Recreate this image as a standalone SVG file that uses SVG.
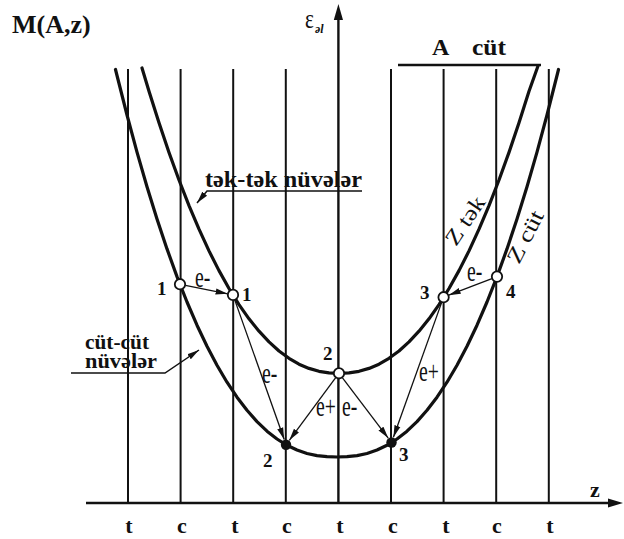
<svg xmlns="http://www.w3.org/2000/svg" width="624" height="539" viewBox="0 0 624 539">
<style>
.grid{stroke:#111;stroke-width:2;fill:none}
.axis{stroke:#111;stroke-width:2.4;fill:none}
.curve{stroke:#111;stroke-width:3.2;fill:none;stroke-linejoin:round;stroke-linecap:round}
.arr{stroke:#111;stroke-width:1.3;fill:none;marker-end:url(#ah)}
.lead{stroke:#111;stroke-width:1.5;fill:none}
.open{fill:#fff;stroke:#111;stroke-width:1.8}
.full{fill:#111}
.b{font-family:"Liberation Serif","DejaVu Serif",serif;font-weight:bold;fill:#111}
.r{font-family:"Liberation Serif","DejaVu Serif",serif;fill:#111}
.num{font-size:19px}
.el{font-size:29px}
</style>
<defs>
<marker id="ah" markerUnits="userSpaceOnUse" markerWidth="13" markerHeight="8" refX="12" refY="4" orient="auto">
<path d="M0,0.9 L12,4 L0,7.1 z" fill="#111"/>
</marker>
</defs>
<rect width="624" height="539" fill="#fff"/>

<g id="grid">
<line class="grid" x1="128" y1="69" x2="128" y2="503"/>
<line class="grid" x1="180.6" y1="69" x2="180.6" y2="503"/>
<line class="grid" x1="233.2" y1="69" x2="233.2" y2="503"/>
<line class="grid" x1="285.8" y1="69" x2="285.8" y2="503"/>
<line class="grid" x1="391" y1="69" x2="391" y2="503"/>
<line class="grid" x1="443.6" y1="69" x2="443.6" y2="503"/>
<line class="grid" x1="496.2" y1="69" x2="496.2" y2="503"/>
<line class="grid" x1="548.8" y1="69" x2="548.8" y2="503"/>
</g>

<g id="axes">
<line class="axis" x1="338.4" y1="503" x2="338.4" y2="18"/>
<polygon points="338.4,4 333.8,20 343,20" fill="#111"/>
<line class="axis" x1="86" y1="503" x2="610" y2="503"/>
<polygon points="623,503 608,498.5 608,507.5" fill="#111"/>
<text class="b" x="590" y="497" font-size="22">z</text>
<text class="r" transform="translate(305,28) scale(0.75,1)" font-size="28">ε</text>
<text class="b" x="315" y="33" font-size="12" font-style="italic">əl</text>
<text class="b" x="12" y="33" font-size="26">M(A,z)</text>
</g>

<g id="a-cut">
<text class="b" x="432" y="55" font-size="24">A</text>
<text class="b" x="472" y="55" font-size="24" textLength="34" lengthAdjust="spacingAndGlyphs">cüt</text>
<line x1="398" y1="65" x2="541" y2="65" stroke="#111" stroke-width="2.5"/>
</g>

<g id="axis-labels" class="b" font-size="22" text-anchor="middle">
<text x="129" y="533">t</text>
<text x="182" y="533">c</text>
<text x="235" y="533">t</text>
<text x="287" y="533">c</text>
<text x="340" y="533">t</text>
<text x="393" y="533">c</text>
<text x="446" y="533">t</text>
<text x="497" y="533">c</text>
<text x="550" y="533">t</text>
</g>

<g id="cut-cut-curve">
<path class="curve" d="M115.5,69.5 L117,75.5 L127,115 L137,152.1 L147,186.8 L157,219 L167,248.9 L177,276.6 L187,302 L197,325.2 L207,346.2 L217,365.2 L227,382.2 L237,397.2 L247,410.3 L257,421.6 L267,431.2 L277,439 L287,445.3 L297,450 L307,453.5 L317,455.6 L327,456.7 L337,457 L347,456.7 L357,455.6 L367,453.5 L377,450 L387,445.3 L397,439 L407,431.2 L417,421.6 L427,410.3 L437,397.2 L447,382.2 L457,365.2 L467,346.2 L477,325.2 L487,302 L497,276.6 L507,248.9 L517,219 L527,186.8 L537,152.1 L547,115 L557,75.5 L558.5,69.5"/>
</g>

<g id="tek-tek-curve">
<path class="curve" d="M142,68 L149,91.2 L159,122.8 L169,152.4 L179,180 L189,205.6 L199,229.2 L209,250.9 L219,270.6 L229,288.5 L239,304.6 L249,318.8 L259,331.2 L269,341.9 L279,351 L289,358.3 L299,364.2 L309,368.4 L319,371.3 L329,372.9 L339,373.3 L349,372.9 L359,371.3 L369,368.4 L379,364.2 L389,358.3 L399,351 L409,341.9 L419,331.2 L429,318.8 L439,304.6 L449,288.5 L459,270.6 L469,250.9 L479,229.2 L489,205.6 L499,180 L509,152.4 L519,122.8 L529,91.2 L538,66"/>
</g>

<g id="label-tek-tek">
<text class="b" x="205" y="187" font-size="23" textLength="157" lengthAdjust="spacingAndGlyphs">tək-tək nüvələr</text>
<path class="lead" d="M362,191 L207,191 L197,203" marker-end="url(#ah)"/>
</g>

<g id="label-cut-cut">
<text class="b" x="85" y="349" font-size="21" textLength="64" lengthAdjust="spacingAndGlyphs">cüt-cüt</text>
<text class="b" x="85" y="368" font-size="21" textLength="72" lengthAdjust="spacingAndGlyphs">nüvələr</text>
<path class="lead" d="M71,373 L165,373 L199,350" marker-end="url(#ah)"/>
</g>

<g id="z-labels">
<text class="r" transform="translate(456,247) rotate(-56)" font-size="22" textLength="54" lengthAdjust="spacingAndGlyphs">Z tək</text>
<text class="r" transform="translate(519,265) rotate(-63)" font-size="22" textLength="56" lengthAdjust="spacingAndGlyphs">Z cüt</text>
</g>

<g id="connectors">
<line class="arr" x1="185.4" y1="285.3" x2="227.6" y2="293.8"/>
<line class="arr" x1="234.8" y1="300.1" x2="284.2" y2="439.5"/>
<line class="arr" x1="335.7" y1="377.7" x2="289.3" y2="440.3"/>
<line class="arr" x1="342.3" y1="377.7" x2="388.2" y2="438.1"/>
<line class="arr" x1="441.7" y1="302.4" x2="393.4" y2="437.3"/>
<line class="arr" x1="491.9" y1="278.6" x2="448.7" y2="295.2"/>
</g>

<g id="connector-labels" class="r el">
<text transform="translate(195,287) scale(0.68,1)">e-</text>
<text transform="translate(262,383) scale(0.68,1)">e-</text>
<text transform="translate(316,416) scale(0.68,1)">e+</text>
<text transform="translate(342,416) scale(0.68,1)">e-</text>
<text transform="translate(419,381) scale(0.68,1)">e+</text>
<text transform="translate(467,281) scale(0.68,1)">e-</text>
</g>

<g id="node-1-left"><circle class="open" cx="180" cy="284.2" r="5.2"/><text class="b num" x="157" y="295">1</text></g>
<g id="node-1-right"><circle class="open" cx="233" cy="294.9" r="5.2"/><text class="b num" x="242" y="301">1</text></g>
<g id="node-2-open"><circle class="open" cx="339" cy="373.3" r="5.2"/><text class="b num" x="323" y="360">2</text></g>
<g id="node-3-open"><circle class="open" cx="443.6" cy="297.2" r="5.2"/><text class="b num" x="420" y="299">3</text></g>
<g id="node-4-open"><circle class="open" cx="497" cy="276.6" r="5.2"/><text class="b num" x="506" y="298">4</text></g>
<g id="node-2-full"><circle class="full" cx="286" cy="444.7" r="5.2"/><text class="b num" x="263" y="467">2</text></g>
<g id="node-3-full"><circle class="full" cx="391.5" cy="442.5" r="5.2"/><text class="b num" x="399" y="461">3</text></g>
</svg>
